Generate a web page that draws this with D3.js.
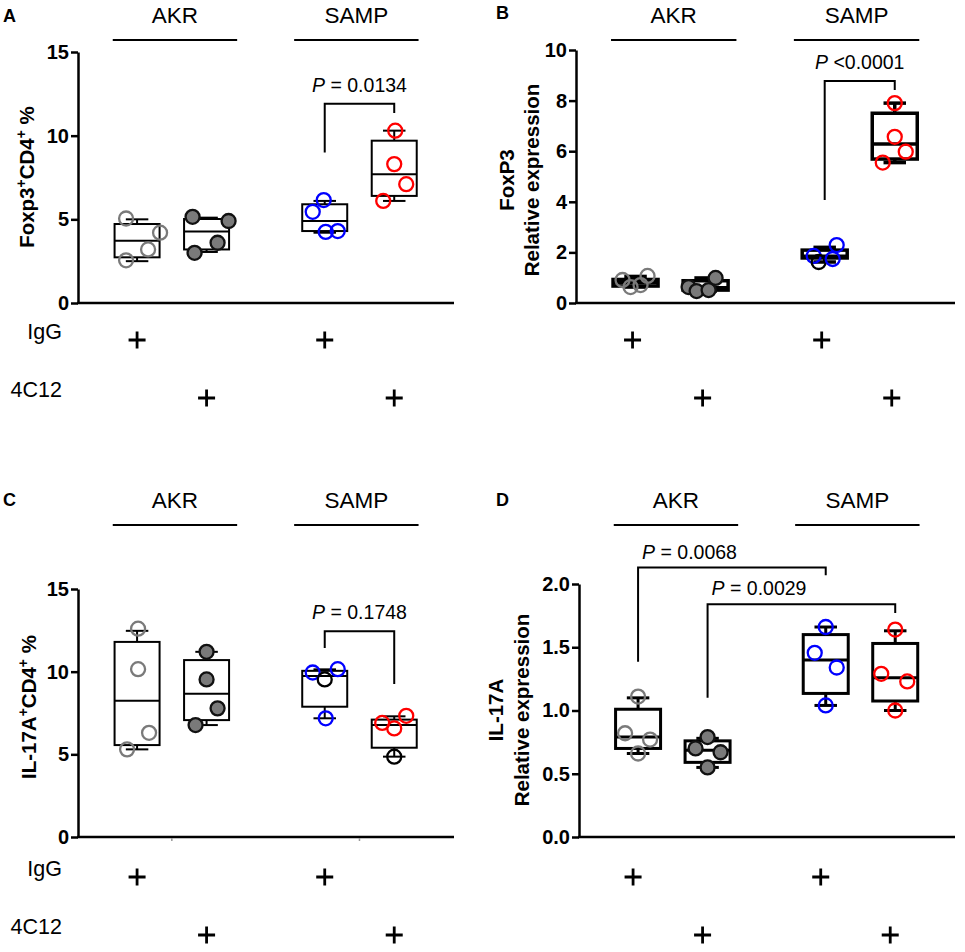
<!DOCTYPE html>
<html>
<head>
<meta charset="utf-8">
<script src="https://cdn.jsdelivr.net/npm/d3@7"></script>
<style>
  body { margin: 0; background: #fff; }
  text { font-family: "Liberation Sans", Arial, sans-serif; }
</style>
</head>
<body>
<div id="fig"></div>
<script>
// groups and treatment rows
var groups = ["AKR IgG", "AKR 4C12", "SAMP IgG", "SAMP 4C12"];
var strains = ["AKR", "SAMP"];
var iggRow = [1, 0, 1, 0];
var c4c12Row = [0, 1, 0, 1];

// panel A: Foxp3+CD4+ %
var aPoints = [[5.05, 4.2, 3.2, 2.55], [5.15, 4.9, 3.6, 3.0], [6.15, 5.45, 4.25, 4.3], [10.3, 8.3, 7.1, 6.1]];
// min, q1, median, q3, max
var aBoxes = [[2.5, 2.73, 3.72, 4.72, 5.0], [3.05, 3.2, 4.28, 5.02, 5.1], [4.2, 4.3, 4.9, 5.9, 6.1], [6.1, 6.4, 7.7, 9.7, 10.3]];
var aTest = [{ from: 2, to: 3, yFrom: 9.0, yTop: 11.9, yTo: 11.35, p: "= 0.0134" }];

// panel B: FoxP3 relative expression
var bPoints = [[0.91, 0.63, 0.71, 1.07], [0.63, 0.47, 0.51, 0.99], [1.86, 1.62, 1.74, 2.29], [7.9, 6.57, 5.98, 5.55]];
var bBoxes = [[0.63, 0.67, 0.8, 0.93, 1.05], [0.47, 0.51, 0.6, 0.88, 0.99], [1.62, 1.78, 1.85, 2.09, 2.2], [5.55, 5.69, 6.28, 7.5, 7.9]];
var bTest = [{ from: 2, to: 3, yFrom: 4.07, yTop: 8.77, yTo: 8.42, p: "<0.0001" }];

// panel C: IL-17A+CD4+ %
var cPoints = [[12.6, 10.15, 6.3, 5.3], [11.2, 9.53, 7.78, 6.77], [9.95, 9.53, 10.15, 7.18], [6.9, 6.57, 7.33, 4.86]];
var cBoxes = [[5.3, 5.56, 8.24, 11.8, 12.47], [6.77, 7.07, 8.67, 10.7, 11.2], [7.18, 7.88, 9.74, 10.05, 10.14], [4.86, 5.4, 6.77, 7.1, 7.3]];
var cTest = [{ from: 2, to: 3, yFrom: 11.43, yTop: 12.45, yTo: 9.25, p: "= 0.1748" }];

// panel D: IL-17A relative expression
var dPoints = [[1.11, 0.82, 0.77, 0.66], [0.79, 0.70, 0.67, 0.55], [1.66, 1.456, 1.34, 1.04], [1.64, 1.29, 1.23, 1.0]];
var dBoxes = [[0.66, 0.70, 0.79, 1.01, 1.1], [0.55, 0.59, 0.685, 0.76, 0.78], [1.04, 1.135, 1.40, 1.60, 1.66], [1.0, 1.075, 1.258, 1.53, 1.63]];
var dTest = [
  { from: 0, to: 2, yFrom: 1.386, yTop: 2.13, yTo: 2.07, p: "= 0.0068", left: true },
  { from: 1, to: 3, yFrom: 1.10, yTop: 1.84, yTo: 1.77, p: "= 0.0029", left: true }
];

// ---- layout (not data) ----
var slots = [0, 1, 2.7, 3.7];           // x position of each group
var strainSpan = [[-0.35, 1.44], [2.26, 4.05]];
var jitA = [[-11, 23, 11, -11], [-14, 22, 11, -12], [-1, -12, 1, 13], [1, 0, 12, -11]];
var jitB = [[-13, -5, 5, 12], [-17, -9, 3, 10], [-11, -6, 8, 12], [0, 0, 11, -12]];
var jitC = [[1, 1, 12, -10], [0, 0, 11, -11], [-12, 0, 13, 1], [-12, 0, 12, 0]];
var jitD = [[0, -13, 12, 0], [0, -12, 13, 0], [0, -11, 11, 0], [0, -14, 12, 0]];
var darkA = [], darkB = [[2, 1]], darkC = [[2, 1], [3, 3]], darkD = [];

var svg = d3.select("#fig").append("svg")
  .attr("width", 965).attr("height", 952);

var boxW = 45, r = 7;

function panel(cfg) {
  var g = svg.append("g");
  var x = d3.scaleLinear().domain([-0.85, 4.56]).range([cfg.left, cfg.right]);
  var y = d3.scaleLinear().domain(cfg.domain).range([cfg.bottom, cfg.top]);

  // panel letter
  g.append("text").attr("x", cfg.letterX).attr("y", cfg.letterY)
    .attr("font-size", 18).attr("font-weight", "bold").text(cfg.letter);

  // strain headers
  strains.forEach(function (s, i) {
    var sp = strainSpan[i];
    g.append("line").attr("x1", x(sp[0])).attr("x2", x(sp[1]))
      .attr("y1", cfg.headY).attr("y2", cfg.headY)
      .attr("stroke", "#000").attr("stroke-width", 2);
    g.append("text").attr("x", x((sp[0] + sp[1]) / 2)).attr("y", cfg.headY - 17)
      .attr("text-anchor", "middle").attr("font-size", 22.5).text(s);
  });

  // y axis
  var yAxis = d3.axisLeft(y).tickValues(cfg.ticks).tickFormat(cfg.fmt)
    .tickSize(7).tickSizeOuter(0).tickPadding(2);
  var ax = g.append("g").attr("transform", "translate(" + cfg.left + ",0)").call(yAxis);
  ax.select(".domain").attr("stroke-width", 2.5);
  ax.selectAll(".tick line").attr("stroke-width", 2.5);
  ax.selectAll(".tick text").attr("font-size", 20).attr("font-weight", "bold")
    .attr("font-family", "Liberation Sans, Arial, sans-serif").attr("fill", "#000");

  // x axis line
  g.append("line").attr("x1", cfg.left - 1).attr("x2", cfg.right)
    .attr("y1", cfg.bottom).attr("y2", cfg.bottom)
    .attr("stroke", "#000").attr("stroke-width", 2.5);
  if (cfg.minorTicks) {
    [0.5, 3.2].forEach(function (p) {
      g.append("line").attr("x1", x(p)).attr("x2", x(p))
        .attr("y1", cfg.bottom + 1).attr("y2", cfg.bottom + 4)
        .attr("stroke", "#999").attr("stroke-width", 1.5);
    });
  }

  // boxes
  cfg.boxes.forEach(function (b, i) {
    var cx = x(slots[i]);
    var bg = g.append("g").attr("stroke", "#000").attr("stroke-width", cfg.sw).attr("fill", "none");
    bg.append("line").attr("x1", cx).attr("x2", cx).attr("y1", y(b[0])).attr("y2", y(b[1]));
    bg.append("line").attr("x1", cx).attr("x2", cx).attr("y1", y(b[3])).attr("y2", y(b[4]));
    bg.append("line").attr("x1", cx - boxW / 4).attr("x2", cx + boxW / 4).attr("y1", y(b[0])).attr("y2", y(b[0]));
    bg.append("line").attr("x1", cx - boxW / 4).attr("x2", cx + boxW / 4).attr("y1", y(b[4])).attr("y2", y(b[4]));
    bg.append("rect").attr("x", cx - boxW / 2).attr("width", boxW)
      .attr("y", y(b[3])).attr("height", y(b[1]) - y(b[3])).attr("fill", "#fff");
    bg.append("line").attr("x1", cx - boxW / 2).attr("x2", cx + boxW / 2).attr("y1", y(b[2])).attr("y2", y(b[2]));
  });

  // points
  var styles = [
    { fill: "none", stroke: "#7a7a7a" },
    { fill: "#7a7a7a", stroke: "#111" },
    { fill: "none", stroke: "#0000ff" },
    { fill: "none", stroke: "#ff0000" }
  ];
  cfg.points.forEach(function (vals, i) {
    var cx = x(slots[i]);
    vals.forEach(function (v, k) {
      var st = styles[i];
      var dark = cfg.dark.some(function (d) { return d[0] === i && d[1] === k; });
      g.append("circle").attr("cx", cx + cfg.jit[i][k]).attr("cy", y(v)).attr("r", r)
        .attr("fill", st.fill).attr("stroke", dark ? "#000" : st.stroke).attr("stroke-width", 2.3);
    });
  });

  // significance brackets
  cfg.tests.forEach(function (t) {
    var x1 = x(slots[t.from]), x2 = x(slots[t.to]);
    g.append("path")
      .attr("d", d3.line()([[x1, y(t.yFrom)], [x1, y(t.yTop)], [x2, y(t.yTop)], [x2, y(t.yTo)]]))
      .attr("fill", "none").attr("stroke", "#000").attr("stroke-width", 2);
    var tx = g.append("text").attr("y", y(t.yTop) - (t.left ? 9 : 12)).attr("font-size", 19.5);
    if (t.left) tx.attr("x", x1 + 4).attr("text-anchor", "start");
    else tx.attr("x", (x1 + x2) / 2).attr("text-anchor", "middle");
    tx.append("tspan").attr("font-style", "italic").text("P");
    tx.append("tspan").text(" " + t.p);
  });

  // y label
  var lab = cfg.ylabel;
  lab.lines.forEach(function (parts, li) {
    var t = g.append("text")
      .attr("transform", "translate(" + lab.xs[li] + "," + lab.y + ") rotate(-90)")
      .attr("text-anchor", "middle").attr("font-size", 20.5).attr("font-weight", "bold");
    var shift = 0;
    parts.forEach(function (p) {
      var ts = t.append("tspan").text(p.t);
      if (p.sup) { ts.attr("dy", -8).attr("font-size", 14); shift = 8; }
      else if (shift) { ts.attr("dy", shift); shift = 0; }
    });
  });

  // treatment rows
  if (cfg.rowLabels) {
    [["IgG", cfg.row1], ["4C12", cfg.row2]].forEach(function (rw) {
      g.append("text").attr("x", 62).attr("y", rw[1] - 1).attr("text-anchor", "end")
        .attr("font-size", 21.5).text(rw[0]);
    });
  }
  [[iggRow, cfg.row1], [c4c12Row, cfg.row2]].forEach(function (rw) {
    rw[0].forEach(function (on, i) {
      if (!on) return;
      var cx = x(slots[i]) + cfg.plusShift, cy = rw[1];
      g.append("path").attr("d", "M" + (cx - 8.5) + "," + cy + "H" + (cx + 8.5) + "M" + cx + "," + (cy - 8.5) + "V" + (cy + 8.5))
        .attr("stroke", "#000").attr("stroke-width", 2.8);
    });
  });
}

panel({
  letter: "A", letterX: 3, letterY: 22, left: 78, right: 454, top: 52, bottom: 303,
  headY: 40, domain: [0, 15], ticks: [0, 5, 10, 15], fmt: d3.format("d"),
  boxes: aBoxes, points: aPoints, jit: jitA, dark: darkA, tests: aTest, sw: 2,
  ylabel: { xs: [34], y: 177, lines: [[{ t: "Foxp3" }, { t: "+", sup: true }, { t: "CD4" }, { t: "+", sup: true }, { t: " %" }]] },
  rowLabels: true, row1: 340, row2: 398, plusShift: 0
});
panel({
  letter: "B", letterX: 496, letterY: 19, left: 576, right: 955, top: 50, bottom: 303,
  headY: 40, domain: [0, 10], ticks: [0, 2, 4, 6, 8, 10], fmt: d3.format("d"),
  boxes: bBoxes, points: bPoints, jit: jitB, dark: darkB, tests: bTest, sw: 3.5,
  ylabel: { xs: [514, 539], y: 180, lines: [[{ t: "FoxP3" }], [{ t: "Relative expression" }]] },
  rowLabels: false, row1: 340, row2: 398, plusShift: -3
});
panel({
  letter: "C", letterX: 3, letterY: 506, left: 78, right: 454, top: 589, bottom: 837,
  headY: 525, domain: [0, 15], ticks: [0, 5, 10, 15], fmt: d3.format("d"),
  boxes: cBoxes, points: cPoints, jit: jitC, dark: darkC, tests: cTest, sw: 2, minorTicks: true,
  ylabel: { xs: [36], y: 707, lines: [[{ t: "IL-17A" }, { t: "+", sup: true }, { t: "CD4" }, { t: "+", sup: true }, { t: " %" }]] },
  rowLabels: true, row1: 877, row2: 935, plusShift: 0
});
panel({
  letter: "D", letterX: 496, letterY: 506, left: 579, right: 955, top: 584, bottom: 837,
  headY: 525, domain: [0, 2], ticks: [0, 0.5, 1, 1.5, 2], fmt: d3.format(".1f"),
  boxes: dBoxes, points: dPoints, jit: jitD, dark: darkD, tests: dTest, sw: 3,
  ylabel: { xs: [503, 529], y: 710, lines: [[{ t: "IL-17A" }], [{ t: "Relative expression" }]] },
  rowLabels: false, row1: 877, row2: 935, plusShift: -5
});
</script>
</body>
</html>
